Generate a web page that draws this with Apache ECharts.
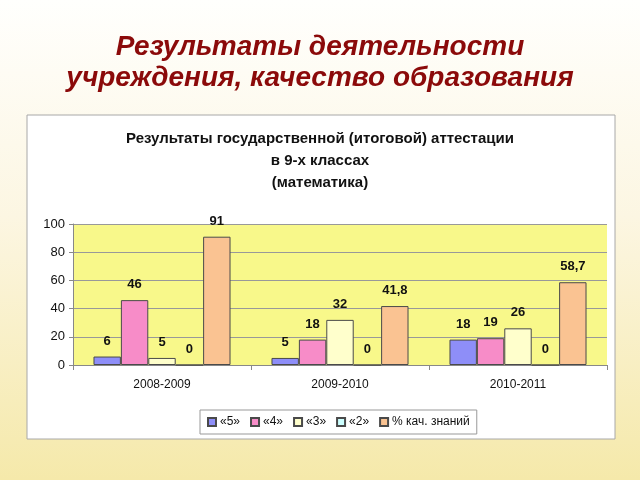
<!DOCTYPE html>
<html><head><meta charset="utf-8">
<script src="https://cdn.jsdelivr.net/npm/echarts@6/dist/echarts.min.js"></script>
<style>html,body{margin:0;padding:0;}#c{width:640px;height:480px;}</style>
</head><body><div id="c"></div>
<script>
var categories = ['2008-2009', '2009-2010', '2010-2011'];
var seriesNames = ['«5»', '«4»', '«3»', '«2»', '% кач. знаний'];
var grade5 = [6, 5, 18];
var grade4 = [46, 18, 19];
var grade3 = [5, 32, 26];
var grade2 = [0, 0, 0];
var quality = [91, 41.8, 58.7];
var yTicks = [0, 20, 40, 60, 80, 100];

var colors = ['#8E8EF8', '#F78CC8', '#FFFFCC', '#CCFFFF', '#FAC392'];
var values = [grade5, grade4, grade3, grade2, quality];

var chart = echarts.init(document.getElementById('c'));
var series = seriesNames.map(function (n, i) {
  return {
    name: n, type: 'bar', data: values[i],
    barGap: '0%', barCategoryGap: '23%',
    itemStyle: { color: colors[i], borderColor: '#4A4A4A', borderWidth: 1 },
    label: {
      show: true, position: 'top', distance: 9, color: '#111',
      fontFamily: 'Arial, Liberation Sans, sans-serif', fontSize: 13, fontWeight: 'bold',
      formatter: function (p) { return String(p.value).replace('.', ','); }
    }
  };
});

chart.setOption({
  backgroundColor: new echarts.graphic.LinearGradient(0, 0, 0, 1, [
    { offset: 0, color: '#FFFFFD' }, { offset: 0.45, color: '#FCF6E2' }, { offset: 1, color: '#F5E9AA' }
  ]),
  animation: false,
  graphic: [{
    type: 'rect', z: -10, silent: true,
    shape: { x: 27, y: 115, width: 588, height: 324 },
    style: { fill: '#FFFFFF', stroke: '#A8A8A8', lineWidth: 1 }
  }],
  title: [{
    text: 'Результаты деятельности\nучреждения, качество образования',
    left: 'center', top: 27,
    textStyle: { color: '#8B0A0A', fontSize: 28, fontStyle: 'italic', fontWeight: 'bold',
      fontFamily: 'Arial, Liberation Sans, sans-serif', lineHeight: 31 }
  }, {
    text: 'Результаты государственной (итоговой) аттестации\nв 9-х классах\n(математика)',
    left: 'center', top: 123,
    textStyle: { color: '#111', fontSize: 15, fontWeight: 'bold',
      fontFamily: 'Arial, Liberation Sans, sans-serif', lineHeight: 22 }
  }],
  legend: {
    bottom: 46, left: 200,
    itemWidth: 8, itemHeight: 8, itemGap: 10,
    borderColor: '#999', borderWidth: 1, padding: [6, 7, 6, 7],
    backgroundColor: '#FFFFFF',
    icon: 'rect',
    textStyle: { fontSize: 12, color: '#111', fontFamily: 'Arial, Liberation Sans, sans-serif', padding: [0, 0, 0, -1] },
    data: seriesNames
  },
  grid: { left: 73, right: 33, top: 224, bottom: 115, show: true, backgroundColor: '#F8F88A', borderWidth: 0 },
  xAxis: {
    type: 'category', data: categories,
    axisLine: { lineStyle: { color: '#888', width: 1 } },
    axisTick: { show: true, length: 5, lineStyle: { color: '#888' } },
    axisLabel: { color: '#111', fontSize: 12, margin: 14, fontFamily: 'Arial, Liberation Sans, sans-serif' }
  },
  yAxis: {
    type: 'value', min: yTicks[0], max: yTicks[yTicks.length - 1], interval: 20,
    axisLine: { show: true, lineStyle: { color: '#888' } },
    axisTick: { show: true, length: 4, lineStyle: { color: '#888' } },
    splitLine: { lineStyle: { color: '#999', width: 1 } },
    axisLabel: { color: '#111', fontSize: 13, margin: 8, fontFamily: 'Arial, Liberation Sans, sans-serif' }
  },
  series: series
});
</script></body></html>
